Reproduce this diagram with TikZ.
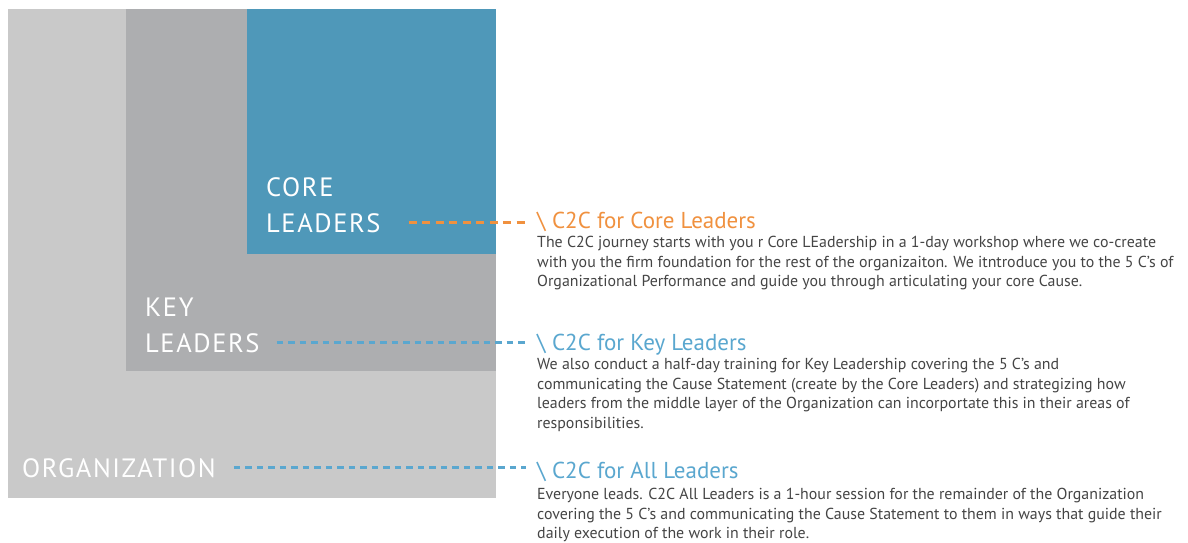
\documentclass[tikz,border=0pt]{standalone}
\usepackage{fontspec}
\setmainfont{PT Sans}
\newfontfamily\tierfont[LetterSpace=6]{PT Sans}
\usetikzlibrary{positioning}
\definecolor{orgGray}{HTML}{C9C9C9}
\definecolor{keyGray}{HTML}{ADAEB0}
\definecolor{coreBlue}{HTML}{4F98B9}
\definecolor{accentOrange}{HTML}{F0913F}
\definecolor{accentBlue}{HTML}{5AA7CF}
\definecolor{bodyGray}{HTML}{454545}

\tikzset{
  tier/.style={anchor=base west, inner sep=0pt, text=white,
    font=\tierfont\fontsize{26.5}{36}\selectfont},
  heading/.style={anchor=base west, inner sep=0pt,
    font=\fontsize{23}{26}\selectfont},
  bodytext/.style={anchor=north west, inner sep=0pt, align=left, text=bodyGray,
    font=\fontsize{15.9}{19.7}\selectfont},
  leader/.style={dashed, line width=2.5pt, dash pattern=on 6.5pt off 5pt}
}

\begin{document}
\begin{tikzpicture}[x=1pt, y=-1pt]
  \useasboundingbox[fill=white] (0,0) rectangle (1188,542);
  % nested layers
  \fill[orgGray] (8,9) rectangle (496,498);
  \fill[keyGray] (126,9) rectangle (496,371);
  \fill[coreBlue] (247,9) rectangle (496,254);

  % layer names
  \node[tier] (coreTop) at (266,196) {CORE};
  \node[tier] (coreLbl) at (266,232) {LEADERS};
  \node[tier] (keyTop) at (145,316) {KEY};
  \node[tier] (keyLbl) at (145,352) {LEADERS};
  \node[tier] (orgLbl) at (22,477) {ORGANIZATION};

  % programme headings
  \node[heading, text=accentOrange] (coreHead) at (537,228) {\textbackslash{} C2C for Core Leaders};
  \node[heading, text=accentBlue] (keyHead) at (537,350) {\textbackslash{} C2C for Key Leaders};
  \node[heading, text=accentBlue] (allHead) at (537,478) {\textbackslash{} C2C for All Leaders};

  % descriptions
  \node[bodytext] (coreBody) at (537,236) {The C2C journey starts with you r Core LEadership in a 1-day workshop where we co-create\\
    with you the firm foundation for the rest of the organizaiton. We itntroduce you to the 5 C's of\\
    Organizational Performance and guide you through articulating your core Cause.};
  \node[bodytext] (keyBody) at (537,358) {We also conduct a half-day training for Key Leadership covering the 5 C's and\\
    communicating the Cause Statement (create by the Core Leaders) and strategizing how\\
    leaders from the middle layer of the Organization can incorportate this in their areas of\\
    responsibilities.};
  \node[bodytext] (allBody) at (537,488) {Everyone leads. C2C All Leaders is a 1-hour session for the remainder of the Organization\\
    covering the 5 C's and communicating the Cause Statement to them in ways that guide their\\
    daily execution of the work in their role.};

  % dashed leaders
  \draw[leader, accentOrange, line width=3pt, dash pattern=on 8pt off 5.5pt,
    shorten <=28pt, shorten >=9pt] (coreLbl.east) -- (coreLbl.east -| coreHead.west);
  \draw[leader, accentBlue, shorten <=17pt, shorten >=11pt] (keyLbl.east) -- (keyLbl.east -| keyHead.west);
  \draw[leader, accentBlue, shorten <=18pt, shorten >=11pt] (orgLbl.east) -- (orgLbl.east -| allHead.west);
\end{tikzpicture}
\end{document}
